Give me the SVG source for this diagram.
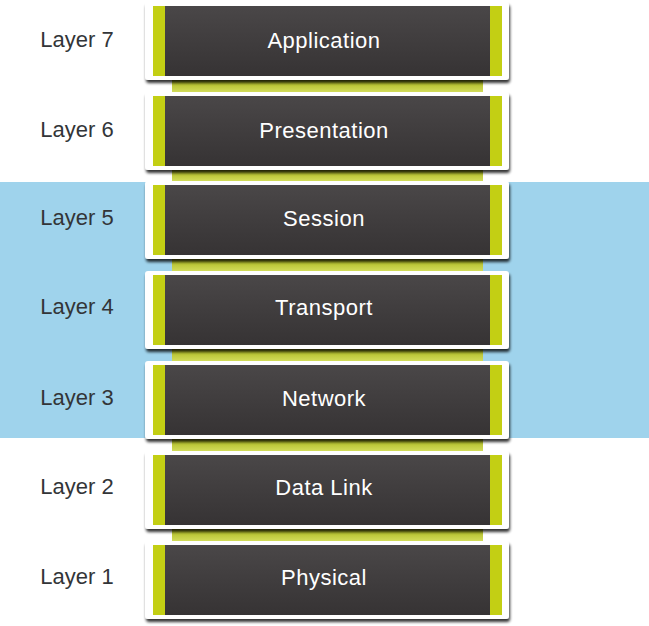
<svg xmlns="http://www.w3.org/2000/svg" width="649" height="626" viewBox="0 0 649 626">
<defs>
<linearGradient id="dark" x1="0" y1="0" x2="0" y2="1">
<stop offset="0" stop-color="#4a4748"/>
<stop offset="1" stop-color="#363334"/>
</linearGradient>
<linearGradient id="strip" x1="0" y1="0" x2="0" y2="1">
<stop offset="0" stop-color="#a9b51c"/>
<stop offset="1" stop-color="#d2dc5a"/>
</linearGradient>
<filter id="sh" x="-5%" y="-10%" width="110%" height="130%">
<feGaussianBlur in="SourceAlpha" stdDeviation="1.5"/>
<feOffset dx="1" dy="3" result="b"/>
<feComponentTransfer><feFuncA type="linear" slope="0.8"/></feComponentTransfer>
<feMerge><feMergeNode/><feMergeNode in="SourceGraphic"/></feMerge>
</filter>
</defs>
<style>
.lbl{font-family:"Liberation Sans",Arial,sans-serif;font-size:22px;fill:#333538;text-anchor:middle}
.name{font-family:"Liberation Sans",Arial,sans-serif;font-size:22px;letter-spacing:0.5px;fill:#ffffff;text-anchor:middle}
.outer{fill:#ffffff}
.inner{fill:url(#dark)}
.bar{fill:#c3cf14}
.strip{fill:url(#strip)}
</style>
<rect x="0" y="182" width="649" height="256" fill="#9fd3ec"/>
<g id="connectors">
<rect class="strip" x="172" y="80" width="311" height="12"/>
<rect class="strip" x="172" y="170" width="311" height="11"/>
<rect class="strip" x="172" y="259" width="311" height="12"/>
<rect class="strip" x="172" y="349" width="311" height="12"/>
<rect class="strip" x="172" y="439" width="311" height="12"/>
<rect class="strip" x="172" y="529" width="311" height="12"/>
</g>
<g id="layer7">
<text class="lbl" x="77" y="47">Layer 7</text>
<rect class="outer" x="145" y="2" width="364" height="78" rx="3" filter="url(#sh)"/>
<rect class="inner" x="153" y="6" width="349" height="70"/>
<rect class="bar" x="153" y="6" width="12" height="70"/>
<rect class="bar" x="490" y="6" width="12" height="70"/>
<text class="name" x="324" y="48">Application</text>
</g>
<g id="layer6">
<text class="lbl" x="77" y="137">Layer 6</text>
<rect class="outer" x="145" y="92" width="364" height="78" rx="3" filter="url(#sh)"/>
<rect class="inner" x="153" y="96" width="349" height="70"/>
<rect class="bar" x="153" y="96" width="12" height="70"/>
<rect class="bar" x="490" y="96" width="12" height="70"/>
<text class="name" x="324" y="138">Presentation</text>
</g>
<g id="layer5">
<text class="lbl" x="77" y="225">Layer 5</text>
<rect class="outer" x="145" y="181" width="364" height="78" rx="3" filter="url(#sh)"/>
<rect class="inner" x="153" y="185" width="349" height="70"/>
<rect class="bar" x="153" y="185" width="12" height="70"/>
<rect class="bar" x="490" y="185" width="12" height="70"/>
<text class="name" x="324" y="226">Session</text>
</g>
<g id="layer4">
<text class="lbl" x="77" y="314">Layer 4</text>
<rect class="outer" x="145" y="271" width="364" height="78" rx="3" filter="url(#sh)"/>
<rect class="inner" x="153" y="275" width="349" height="70"/>
<rect class="bar" x="153" y="275" width="12" height="70"/>
<rect class="bar" x="490" y="275" width="12" height="70"/>
<text class="name" x="324" y="315">Transport</text>
</g>
<g id="layer3">
<text class="lbl" x="77" y="405">Layer 3</text>
<rect class="outer" x="145" y="361" width="364" height="78" rx="3" filter="url(#sh)"/>
<rect class="inner" x="153" y="365" width="349" height="70"/>
<rect class="bar" x="153" y="365" width="12" height="70"/>
<rect class="bar" x="490" y="365" width="12" height="70"/>
<text class="name" x="324" y="406">Network</text>
</g>
<g id="layer2">
<text class="lbl" x="77" y="494">Layer 2</text>
<rect class="outer" x="145" y="451" width="364" height="78" rx="3" filter="url(#sh)"/>
<rect class="inner" x="153" y="455" width="349" height="70"/>
<rect class="bar" x="153" y="455" width="12" height="70"/>
<rect class="bar" x="490" y="455" width="12" height="70"/>
<text class="name" x="324" y="495">Data Link</text>
</g>
<g id="layer1">
<text class="lbl" x="77" y="584">Layer 1</text>
<rect class="outer" x="145" y="541" width="364" height="78" rx="3" filter="url(#sh)"/>
<rect class="inner" x="153" y="545" width="349" height="70"/>
<rect class="bar" x="153" y="545" width="12" height="70"/>
<rect class="bar" x="490" y="545" width="12" height="70"/>
<text class="name" x="324" y="585">Physical</text>
</g>
</svg>
